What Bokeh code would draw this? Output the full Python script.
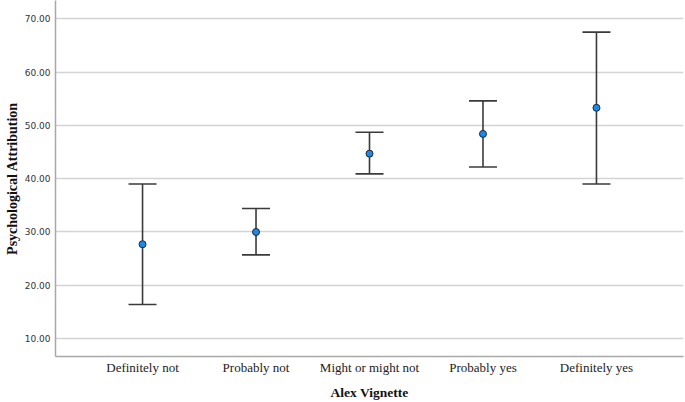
from bokeh.plotting import figure
from bokeh.models import Range1d, FixedTicker, NumeralTickFormatter, ColumnDataSource
from bokeh.embed import file_html
from bokeh.resources import INLINE

categories = ["Definitely not", "Probably not", "Might or might not", "Probably yes", "Definitely yes"]
means = [27.7, 30.0, 44.7, 48.4, 53.3]
lower = [16.4, 25.7, 40.9, 42.2, 39.0]
upper = [39.0, 34.4, 48.7, 54.6, 67.5]
y_ticks = [10, 20, 30, 40, 50, 60, 70]

xs = list(range(len(categories)))
src = ColumnDataSource(dict(x=xs, mean=means, lo=lower, hi=upper))

p = figure(width=685, height=402, output_backend="svg", toolbar_location=None,
           x_range=Range1d(-0.767, 4.767), y_range=Range1d(6.64, 73.43),
           min_border_left=55, min_border_right=2, min_border_top=0, min_border_bottom=46)
p.outline_line_color = None

p.segment(x0="x", y0="lo", x1="x", y1="hi", source=src, line_color="#3a3a3a", line_width=1.6)
p.scatter(x="x", y="lo", source=src, marker="dash", size=28, line_color="#3a3a3a", line_width=1.6)
p.scatter(x="x", y="hi", source=src, marker="dash", size=28, line_color="#3a3a3a", line_width=1.6)
p.scatter(x="x", y="mean", source=src, size=7, fill_color="#1e88e5", line_color="#1a2a40", line_width=1)

p.xgrid.grid_line_color = None
p.ygrid.grid_line_color = "#d4d4d4"
p.ygrid.grid_line_width = 1.5

p.xaxis.ticker = FixedTicker(ticks=xs)
p.xaxis.major_label_overrides = {i: c for i, c in enumerate(categories)}
p.xaxis.major_tick_line_color = None
p.xaxis.minor_tick_line_color = None
p.xaxis.major_tick_out = 0
p.xaxis.major_label_standoff = 3
p.xaxis.major_label_text_font = "Liberation Serif"
p.xaxis.major_label_text_font_size = "13px"
p.xaxis.major_label_text_color = "#222222"
p.xaxis.axis_label = "Alex Vignette"
p.xaxis.axis_label_standoff = 7
p.xaxis.axis_label_text_font = "Liberation Serif"
p.xaxis.axis_label_text_font_style = "bold"
p.xaxis.axis_label_text_font_size = "13.5px"
p.xaxis.axis_label_text_color = "#111111"

p.yaxis.ticker = FixedTicker(ticks=y_ticks)
p.yaxis.formatter = NumeralTickFormatter(format="0.00")
p.yaxis.major_tick_line_color = None
p.yaxis.minor_tick_line_color = None
p.yaxis.major_tick_out = 0
p.yaxis.major_label_standoff = 5
p.yaxis.major_label_text_font = "DejaVu Sans"
p.yaxis.major_label_text_font_size = "9px"
p.yaxis.major_label_text_color = "#333333"
p.yaxis.axis_label = "Psychological Attribution"
p.yaxis.axis_label_standoff = 2
p.yaxis.axis_label_text_font = "Liberation Serif"
p.yaxis.axis_label_text_font_style = "bold"
p.yaxis.axis_label_text_font_size = "14px"
p.yaxis.axis_label_text_color = "#111111"

for ax in (p.xaxis, p.yaxis):
    ax.axis_line_color = "#a8a8a8"
    ax.axis_line_width = 1.5

open("out.html", "w").write(file_html(p, INLINE))
